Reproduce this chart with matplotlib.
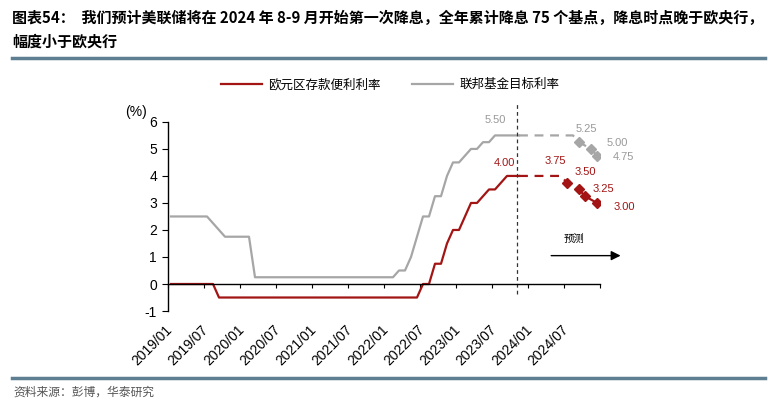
import numpy as np
import matplotlib
matplotlib.use("Agg")
import matplotlib.pyplot as plt
from matplotlib.lines import Line2D

plt.rcParams['font.family'] = ['Liberation Sans', 'Noto Sans CJK SC', 'DejaVu Sans']
plt.rcParams['axes.unicode_minus'] = False
CJK = ['Noto Sans CJK SC', 'DejaVu Sans']

# monthly values from 2019/01 to 2023/11 (index 0 = 2019/01)
fed_rate = [2.5, 2.5, 2.5, 2.5, 2.5, 2.5, 2.5, 2.25, 2.0,
            1.75, 1.75, 1.75, 1.75, 1.75,
            0.25, 0.25, 0.25, 0.25, 0.25, 0.25, 0.25, 0.25, 0.25, 0.25, 0.25, 0.25,
            0.25, 0.25, 0.25, 0.25, 0.25, 0.25, 0.25, 0.25, 0.25, 0.25, 0.25, 0.25,
            0.5, 0.5, 1.0, 1.75, 2.5, 2.5, 3.25, 3.25, 4.0, 4.5, 4.5, 4.75,
            5.0, 5.0, 5.25, 5.25, 5.5, 5.5, 5.5, 5.5, 5.5]
ecb_rate = [0, 0, 0, 0, 0, 0, 0, 0,
            -0.5, -0.5, -0.5, -0.5, -0.5, -0.5, -0.5, -0.5, -0.5, -0.5, -0.5, -0.5,
            -0.5, -0.5, -0.5, -0.5, -0.5, -0.5, -0.5, -0.5, -0.5, -0.5, -0.5, -0.5,
            -0.5, -0.5, -0.5, -0.5, -0.5, -0.5, -0.5, -0.5, -0.5, -0.5,
            0, 0, 0.75, 0.75, 1.5, 2.0, 2.0, 2.5, 3.0, 3.0, 3.25, 3.5, 3.5, 3.75,
            4.0, 4.0, 4.0]

# forecast path (month index, value); markers on the cut points
fed_fc_x = [58, 67, 68, 70, 71]
fed_fc_y = [5.5, 5.5, 5.25, 5.0, 4.75]
ecb_fc_x = [58, 65, 66, 68, 69, 71]
ecb_fc_y = [4.0, 4.0, 3.75, 3.5, 3.25, 3.0]

tick_labels = ["2019/01", "2019/07", "2020/01", "2020/07", "2021/01", "2021/07",
               "2022/01", "2022/07", "2023/01", "2023/07", "2024/01", "2024/07"]
forecast_start = 57.7

red = "#A31515"
gray = "#A6A6A6"
rule = "#5E7F92"

fig = plt.figure(figsize=(7.68, 4.08), dpi=100)
ax = fig.add_axes([0.21875, 0.2377, 0.5625, 0.4635])

x = np.arange(len(fed_rate))
ax.plot(x, ecb_rate, color=red, lw=1.6, label="欧元区存款便利利率")
ax.plot(x, fed_rate, color=gray, lw=1.6, label="联邦基金目标利率")

ax.plot(ecb_fc_x, ecb_fc_y, color=red, lw=1.6, ls=(0, (4, 3)))
ax.plot(ecb_fc_x[2:], ecb_fc_y[2:], ls="none", marker="D", ms=5.2, color=red)
ax.plot(fed_fc_x, fed_fc_y, color=gray, lw=1.6, ls=(0, (4, 3)))
ax.plot(fed_fc_x[2:], fed_fc_y[2:], ls="none", marker="D", ms=5.2, color=gray)

ax.axvline(forecast_start, ymin=0.09, ymax=1.1, color="#333333", lw=0.9,
           ls=(0, (3, 2.5)), clip_on=False)

# value labels
lab = dict(fontsize=8, ha="center", va="center")
ax.text(54, 6.07, "5.50", color="#999999", **lab)
ax.text(55.6, 4.49, "4.00", color=red, **lab)
ax.text(64.0, 4.57, "3.75", color=red, **lab)
ax.text(69.1, 4.14, "3.50", color=red, **lab)
ax.text(72.1, 3.5, "3.25", color=red, **lab)
ax.text(75.5, 2.84, "3.00", color=red, **lab)
ax.text(69.3, 5.73, "5.25", color="#999999", **lab)
ax.text(74.3, 5.21, "5.00", color="#999999", **lab)
ax.text(75.4, 4.69, "4.75", color="#999999", **lab)

# forecast arrow
ax.annotate("", xy=(75.4, 1.05), xytext=(62.9, 1.05),
            arrowprops=dict(arrowstyle="-|>", color="black", lw=1,
                            mutation_scale=14), annotation_clip=False)
ax.text(67.2, 1.67, "预测", fontsize=7.5, ha="center", va="center", family=CJK)

# axes styling
ax.set_xlim(-0.5, 71.5)
ax.set_ylim(-1, 6)
ax.set_yticks(range(-1, 7))
ax.tick_params(axis="y", direction="out", length=4, labelsize=10, pad=4)
ax.spines["top"].set_visible(False)
ax.spines["right"].set_visible(False)
ax.spines["bottom"].set_position(("data", 0))
ax.spines["left"].set_linewidth(1)
ax.spines["bottom"].set_linewidth(1)
ax.set_xticks(np.arange(-0.5, 72, 6))
ax.tick_params(axis="x", direction="out", length=3, labelbottom=False)
for i, t in enumerate(tick_labels):
    ax.text(-0.5 + 6 * i + 1.2, -0.06, t, rotation=45, ha="right", va="top",
            fontsize=10, transform=ax.get_xaxis_transform())
ax.text(-0.075, 1.055, "(%)", fontsize=10, ha="center", va="center",
        transform=ax.transAxes)

leg = fig.legend(loc="center", bbox_to_anchor=(0.508, 0.792), ncol=2, frameon=False,
                 prop={"family": CJK, "size": 9}, handlelength=3.3,
                 columnspacing=2.5, handletextpad=0.5)

# header / footer
fig.text(0.016, 0.955, "图表54：  我们预计美联储将在 2024 年 8-9 月开始第一次降息，全年累计降息 75 个基点，降息时点晚于欧央行，",
         fontsize=10.8, fontweight="bold", family=CJK, ha="left", va="center")
fig.text(0.016, 0.897, "幅度小于欧央行", fontsize=10.8, fontweight="bold", family=CJK,
         ha="left", va="center")
fig.add_artist(Line2D([0.016, 0.996], [0.857, 0.857], color=rule, lw=2.5))
fig.add_artist(Line2D([0.016, 0.996], [0.073, 0.073], color=rule, lw=2.5))
fig.text(0.018, 0.04, "资料来源：彭博，华泰研究", fontsize=8.5, color="#555555",
         family=CJK, ha="left", va="center")

fig.savefig("out.png", dpi=100)
